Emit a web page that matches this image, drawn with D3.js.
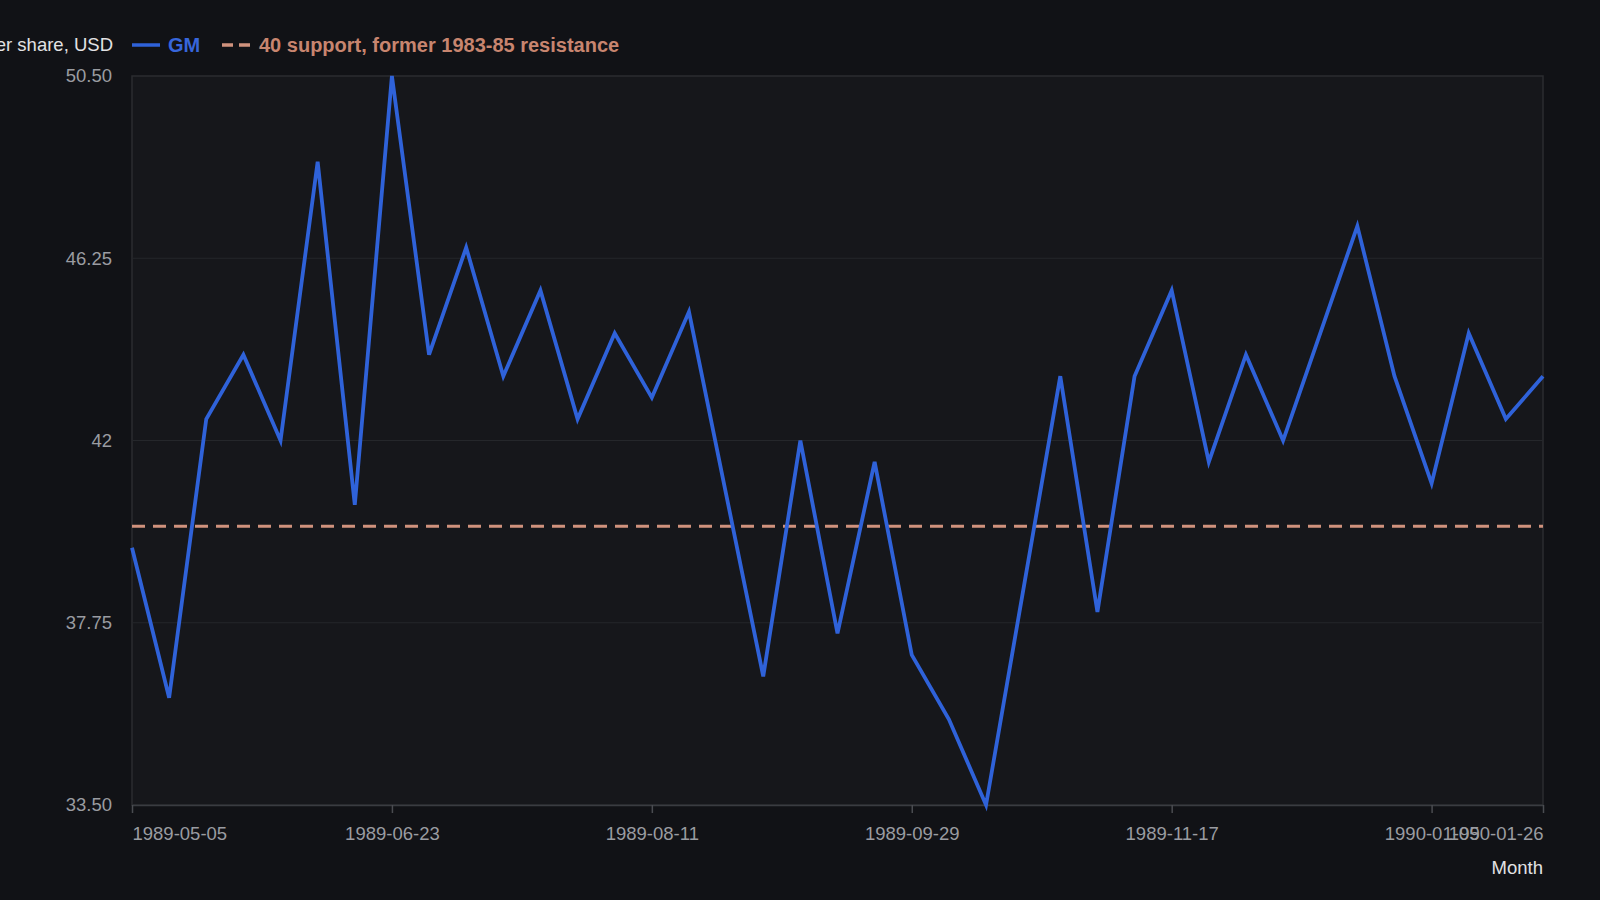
<!DOCTYPE html>
<html lang="en">
<head>
    <meta charset="UTF-8">
    <title>GM weekly price</title>
    <style>
        html, body {
            margin: 0;
            padding: 0;
            background-color: #111216;
        }
        svg {
            display: block;
            font-family: "Liberation Sans", Arial, sans-serif;
        }
        .tick-label {
            fill: #9a9ca1;
            font-size: 18.5px;
        }
    </style>
</head>
<body>
    <svg id="chart" width="1600" height="900"></svg>

    <script src="https://d3js.org/d3.v7.min.js"></script>
    <script>
        // weekly closes
        const dates = [
            "1989-05-05", "1989-05-12", "1989-05-19", "1989-05-26", "1989-06-02", "1989-06-09", "1989-06-16",
            "1989-06-23", "1989-06-30", "1989-07-07", "1989-07-14", "1989-07-21", "1989-07-28", "1989-08-04",
            "1989-08-11", "1989-08-18", "1989-08-25", "1989-09-01", "1989-09-08", "1989-09-15", "1989-09-22",
            "1989-09-29", "1989-10-06", "1989-10-13", "1989-10-20", "1989-10-27", "1989-11-03", "1989-11-10",
            "1989-11-17", "1989-11-24", "1989-12-01", "1989-12-08", "1989-12-15", "1989-12-22", "1989-12-29",
            "1990-01-05", "1990-01-12", "1990-01-19", "1990-01-26"
        ];
        const gm = [
            39.5, 36.0, 42.5, 44.0, 42.0, 48.5, 40.5,
            50.5, 44.0, 46.5, 43.5, 45.5, 42.5, 44.5,
            43.0, 45.0, 40.75, 36.5, 42.0, 37.5, 41.5,
            37.0, 35.5, 33.5, 38.5, 43.5, 38.0, 43.5,
            45.5, 41.5, 44.0, 42.0, 44.5, 47.0, 43.5,
            41.0, 44.5, 42.5, 43.5
        ];
        const supportLevel = 40;
        const xTickDates = ["1989-05-05", "1989-06-23", "1989-08-11", "1989-09-29", "1989-11-17", "1990-01-05", "1990-01-26"];
        const yTicks = [33.5, 37.75, 42, 46.25, 50.5];
        const yTickLabels = ["33.50", "37.75", "42", "46.25", "50.50"];

        const svg = d3.select("#chart");
        const width = +svg.attr("width");
        const height = +svg.attr("height");
        const margin = {top: 76, right: 57, bottom: 95, left: 132};
        const chartWidth = width - margin.left - margin.right;
        const chartHeight = height - margin.top - margin.bottom;

        const parse = d3.timeParse("%Y-%m-%d");
        const fmt = d3.timeFormat("%Y-%m-%d");
        const data = dates.map((d, i) => ({date: parse(d), value: gm[i]}));

        const x = d3.scaleTime()
            .domain(d3.extent(data, d => d.date))
            .range([0, chartWidth]);

        const y = d3.scaleLinear()
            .domain([33.5, 50.5])
            .range([chartHeight, 0]);

        const g = svg.append("g")
            .attr("transform", `translate(${margin.left},${margin.top})`);

        // plot background + frame
        g.append("rect")
            .attr("width", chartWidth)
            .attr("height", chartHeight)
            .attr("fill", "#16171b")
            .attr("stroke", "#2b2d31")
            .attr("stroke-width", 1.5);

        // grid
        g.append("g")
            .selectAll("line")
            .data(yTicks.slice(1, -1))
            .join("line")
            .attr("x1", 0)
            .attr("x2", chartWidth)
            .attr("y1", d => y(d))
            .attr("y2", d => y(d))
            .attr("stroke", "#25272b")
            .attr("stroke-width", 1.2);

        // y axis
        const yAxis = g.append("g")
            .call(d3.axisLeft(y)
                .tickValues(yTicks)
                .tickSize(0)
                .tickPadding(20)
                .tickFormat((d, i) => yTickLabels[i]));
        yAxis.select(".domain").remove();
        yAxis.selectAll("text")
            .attr("class", "tick-label")
            .attr("font-family", null)
            .attr("font-size", null);

        // x axis
        const xAxis = g.append("g")
            .attr("transform", `translate(0,${chartHeight})`)
            .call(d3.axisBottom(x)
                .tickValues(xTickDates.map(parse))
                .tickSize(8)
                .tickSizeOuter(0)
                .tickPadding(8)
                .tickFormat(fmt));
        xAxis.select(".domain").attr("stroke", "#3a3c41").attr("stroke-width", 1.5);
        xAxis.selectAll(".tick line").attr("stroke", "#4a4c51").attr("stroke-width", 1.5);
        xAxis.selectAll("text")
            .attr("class", "tick-label")
            .attr("font-family", null)
            .attr("font-size", null)
            .attr("dy", "1em")
            .attr("text-anchor", (d, i, n) => i === 0 ? "start" : (i === n.length - 1 ? "end" : "middle"));

        // support line
        g.append("line")
            .attr("x1", 0)
            .attr("x2", chartWidth)
            .attr("y1", y(supportLevel))
            .attr("y2", y(supportLevel))
            .attr("stroke", "#d0927d")
            .attr("stroke-width", 3)
            .attr("stroke-dasharray", "13 8");

        // price line
        const line = d3.line()
            .x(d => x(d.date))
            .y(d => y(d.value));

        g.append("path")
            .datum(data)
            .attr("fill", "none")
            .attr("stroke", "#2f62d9")
            .attr("stroke-width", 3.8)
            .attr("stroke-linejoin", "miter")
            .attr("d", line);

        // axis title + legend along the top
        svg.append("text")
            .attr("x", 113)
            .attr("y", 51)
            .attr("text-anchor", "end")
            .attr("fill", "#e2e2e4")
            .attr("font-size", 18.5)
            .text("Price per share, USD");

        const legend = svg.append("g").attr("transform", "translate(132,45)");
        legend.append("line")
            .attr("x1", 0).attr("x2", 28)
            .attr("stroke", "#2f62d9").attr("stroke-width", 3.5);
        legend.append("text")
            .attr("x", 36).attr("y", 7)
            .attr("fill", "#3766db")
            .attr("font-size", 20)
            .attr("font-weight", "bold")
            .text("GM");
        legend.append("line")
            .attr("x1", 90).attr("x2", 119)
            .attr("stroke", "#d0927d").attr("stroke-width", 3.5)
            .attr("stroke-dasharray", "11 6");
        legend.append("text")
            .attr("x", 127).attr("y", 7)
            .attr("fill", "#c8856f")
            .attr("font-size", 20)
            .attr("font-weight", "bold")
            .text("40 support, former 1983-85 resistance");

        svg.append("text")
            .attr("x", margin.left + chartWidth)
            .attr("y", 874)
            .attr("text-anchor", "end")
            .attr("fill", "#e2e2e4")
            .attr("font-size", 18.5)
            .text("Month");
    </script>
</body>
</html>
